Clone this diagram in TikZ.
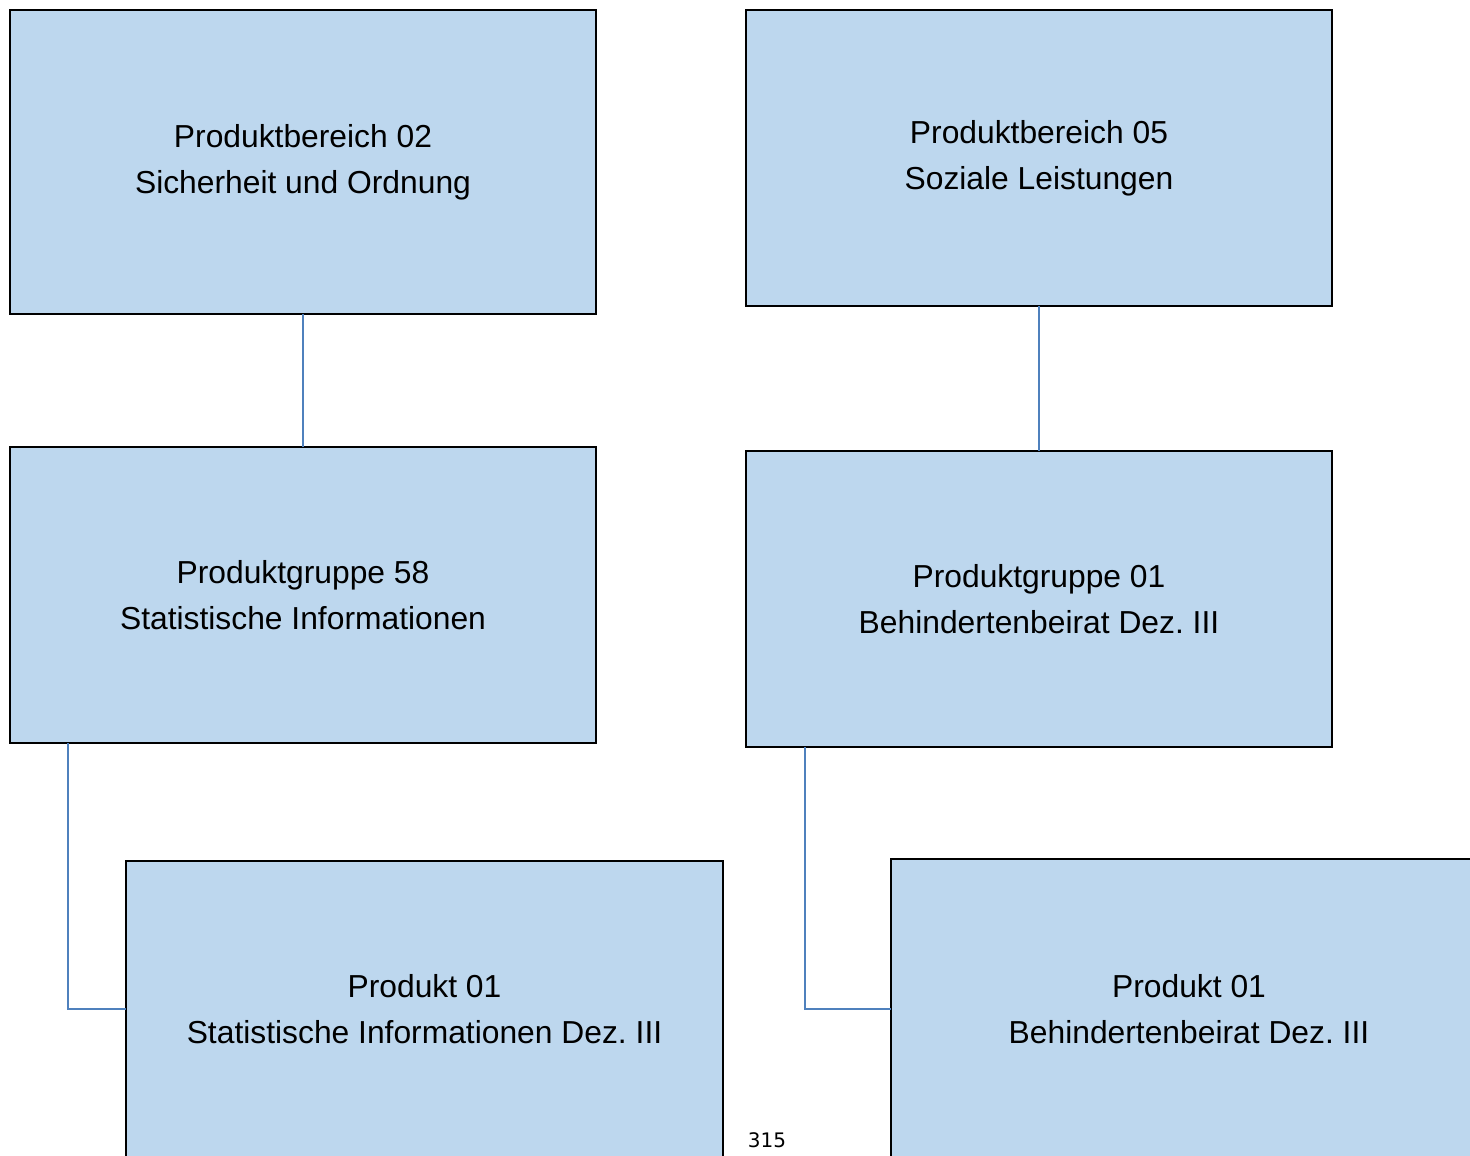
\documentclass[tikz,border=0pt]{standalone}
\usepackage{fontspec}
\setmainfont{Liberation Sans}
\newfontfamily\pagefont{DejaVu Sans}
\definecolor{boxfill}{RGB}{189,215,238}
\definecolor{linkblue}{RGB}{79,129,189}
\frenchspacing
\begin{document}
\begin{tikzpicture}[x=1pt,y=-1pt,
  box/.style={draw=black,line width=2.5pt,fill=boxfill,anchor=north west,inner sep=0pt,outer sep=0pt,
    align=center,font=\fontsize{31.8}{46}\selectfont},
  link/.style={draw=linkblue,line width=2.2pt}]
\useasboundingbox (0,0) rectangle (1470,1156);
\clip (0,0) rectangle (1470,1156);
\node[box,minimum width=586pt,minimum height=304pt] (A) at (10,10) {Produktbereich 02\\Sicherheit und Ordnung};
\node[box,minimum width=586pt,minimum height=296pt] (B) at (746,10) {Produktbereich 05\\Soziale Leistungen};
\node[box,minimum width=586pt,minimum height=296pt] (C) at (10,447) {Produktgruppe 58\\Statistische Informationen};
\node[box,minimum width=586pt,minimum height=296pt] (D) at (746,451) {Produktgruppe 01\\Behindertenbeirat Dez. III};
\node[box,minimum width=597pt,minimum height=296pt] (E) at (126,861) {Produkt 01\\Statistische Informationen Dez. III};
\node[box,minimum width=596pt,minimum height=300pt] (F) at (891,859) {Produkt 01\\Behindertenbeirat Dez. III};
\draw[link] (A.south) -- (C.north);
\draw[link] (B.south) -- (D.north);
\draw[link] ([xshift=58pt]C.south west) |- (E.west);
\draw[link] ([xshift=59pt]D.south west) |- (F.west);
\node[font=\pagefont\fontsize{20}{24}\selectfont,anchor=base,inner sep=0pt] (pg) at (767,1147) {315};
\end{tikzpicture}
\end{document}
